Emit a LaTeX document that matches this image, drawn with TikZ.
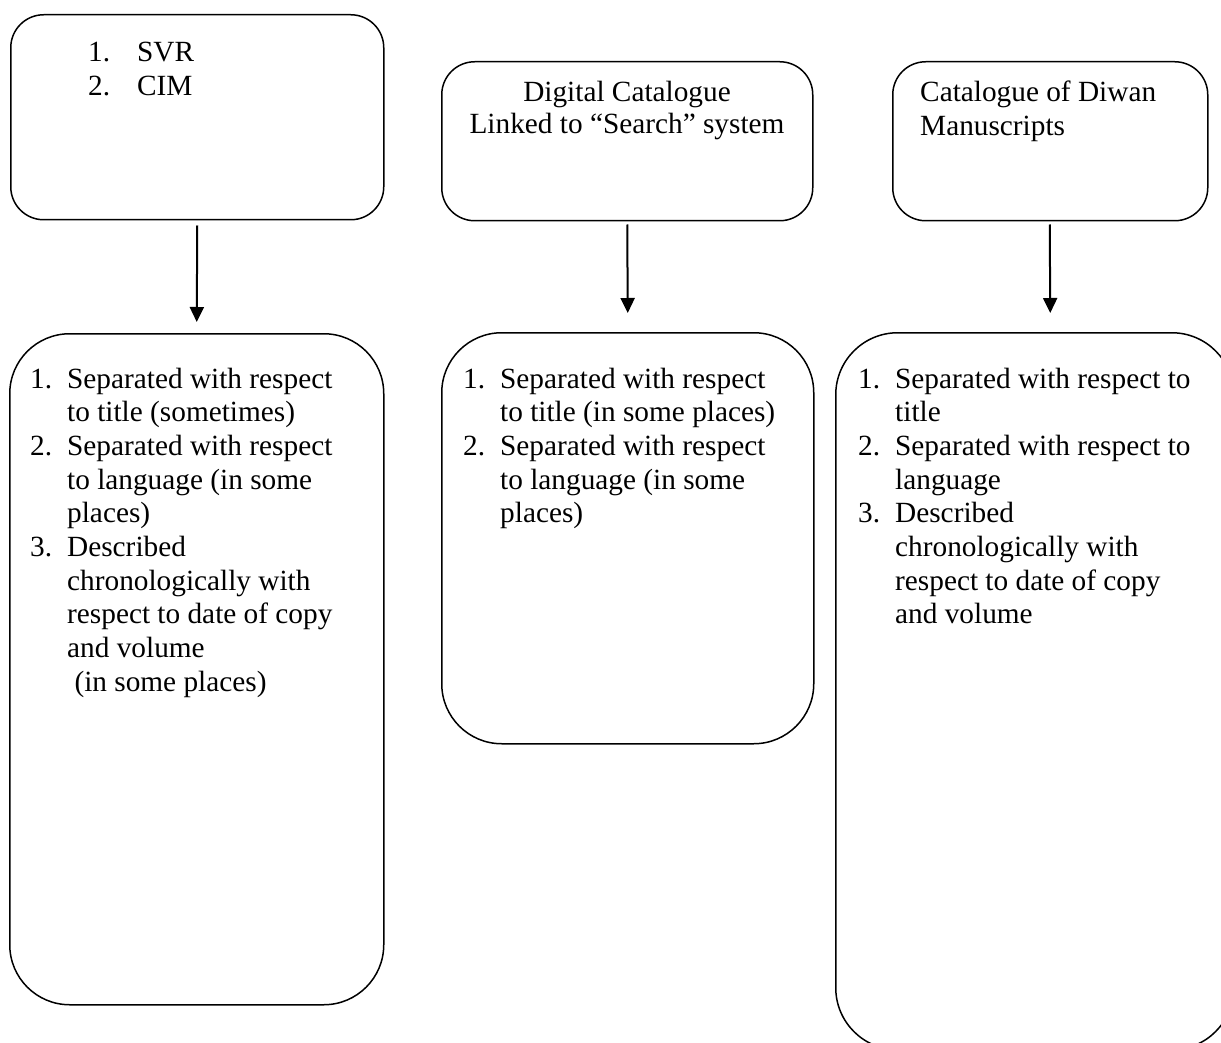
\documentclass[tikz,border=0pt]{standalone}
\usepackage{fontspec}
\setmainfont{Liberation Serif}
\usetikzlibrary{arrows.meta}
\newcommand\nm[1]{\makebox[37pt][l]{#1}}
\begin{document}
\begin{tikzpicture}[x=1pt,y=-1pt,
  box/.style={draw=black,line width=1.5pt,rectangle,anchor=north west,inner sep=0pt},
  txt/.style={inner sep=0pt,font=\fontsize{29.3}{33.7}\selectfont},
  arr/.style={line width=2pt,-{Triangle[length=15pt,width=14pt]}}]
\useasboundingbox (0,0) rectangle (1221,1043);
% top boxes
\node[box,rounded corners=33pt,minimum width=373pt,minimum height=205pt] (A1) at (10,14) {};
\node[box,rounded corners=33pt,minimum width=371pt,minimum height=159pt] (B1) at (441,61) {};
\node[box,rounded corners=33pt,minimum width=315pt,minimum height=159pt] (C1) at (892,61) {};
% bottom boxes
\node[box,rounded corners=60pt,minimum width=374pt,minimum height=671pt] (A2) at (9,333) {};
\node[box,rounded corners=60pt,minimum width=372pt,minimum height=411pt] (B2) at (441,332) {};
\node[box,rounded corners=62pt,minimum width=398pt,minimum height=717pt] (C2) at (835,332) {};
% arrows
\draw[arr] ([yshift=-5pt]A1.south) -- ([yshift=11pt]A2.north);
\draw[arr] ([yshift=-3pt]B1.south) -- ([yshift=19pt]B2.north);
\draw[arr] ([yshift=-3pt,xshift=-0.5pt]C1.south) -- ([yshift=19pt]C1.south |- C2.north);
% texts
\node[txt,anchor=base west] (tA1) at (88,62) {\begin{tabular}[t]{@{}l@{}}
\makebox[49pt][l]{1.}SVR\\
\makebox[49pt][l]{2.}CIM\end{tabular}};
\node[txt,anchor=base] (tB1) at (627,102) {\begin{tabular}[t]{@{}c@{}}
Digital Catalogue\\[-2.5pt]
Linked to “Search” system\end{tabular}};
\node[txt,anchor=base west] (tC1) at (920,102) {\begin{tabular}[t]{@{}l@{}}
Catalogue of Diwan\\
Manuscripts\end{tabular}};
\node[txt,anchor=base west] (tA2) at (30,388) {\begin{tabular}[t]{@{}l@{}}
\nm{1.}Separated with respect\\
\nm{}to title (sometimes)\\
\nm{2.}Separated with respect\\
\nm{}to language (in some\\
\nm{}places)\\
\nm{3.}Described\\
\nm{}chronologically with\\
\nm{}respect to date of copy\\
\nm{}and volume\\
\nm{}\hspace*{0.25em}(in some places)\end{tabular}};
\node[txt,anchor=base west] (tB2) at (463,388) {\begin{tabular}[t]{@{}l@{}}
\nm{1.}Separated with respect\\
\nm{}to title (in some places)\\
\nm{2.}Separated with respect\\
\nm{}to language (in some\\
\nm{}places)\end{tabular}};
\node[txt,anchor=base west] (tC2) at (858,388) {\begin{tabular}[t]{@{}l@{}}
\nm{1.}Separated with respect to\\
\nm{}title\\
\nm{2.}Separated with respect to\\
\nm{}language\\
\nm{3.}Described\\
\nm{}chronologically with\\
\nm{}respect to date of copy\\
\nm{}and volume\end{tabular}};
\end{tikzpicture}
\end{document}
